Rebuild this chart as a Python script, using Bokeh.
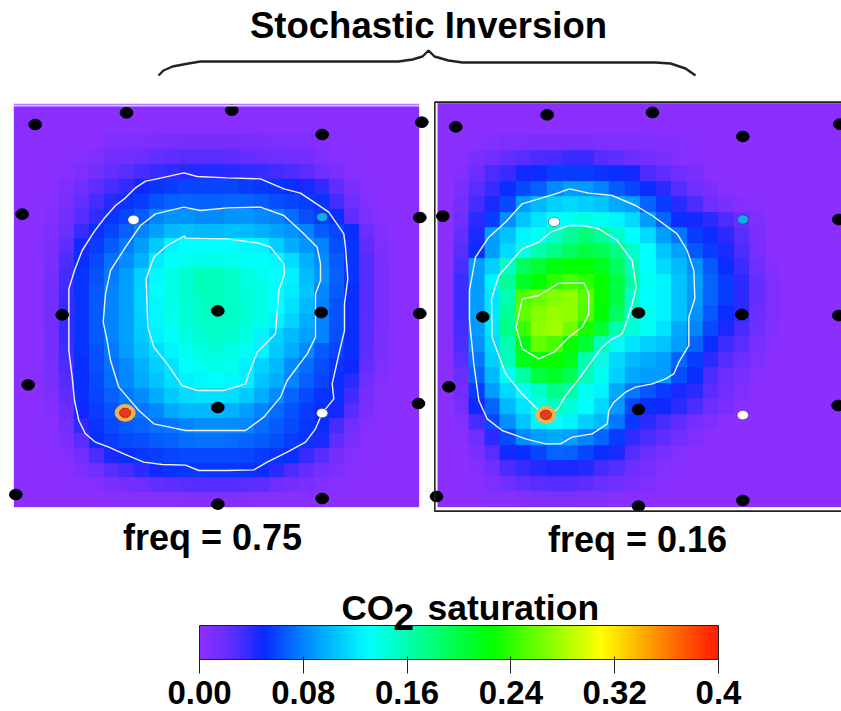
from bokeh.plotting import figure
from bokeh.models import Range1d, LinearColorMapper, ColorBar, FixedTicker
from bokeh.core.properties import value
from bokeh.embed import file_html
from bokeh.resources import INLINE
import numpy as np

# CO2 saturation in thousandths, row 0 at the top of the map
sat_freq75 = [
 [0]*27,
 [0,0,0,0,0,1,2,2,2,2,2,2,2,2,2,2,2,2,2,2,1,1,0,0,0,0,0],
 [0,0,0,0,1,3,8,9,9,10,12,14,14,14,14,12,10,9,9,8,6,3,1,0,0,0,0],
 [0,0,0,1,4,8,14,17,20,22,24,26,26,26,24,22,20,18,16,13,8,4,2,0,0,0,0],
 [0,0,1,4,8,14,22,26,32,36,38,42,42,42,40,38,36,34,30,26,18,10,4,1,0,0,0],
 [0,0,3,8,16,24,32,38,48,52,56,58,58,58,58,56,54,52,50,44,38,24,10,3,1,0,0],
 [0,1,4,12,22,32,42,52,56,64,68,70,68,68,70,70,66,62,58,56,52,34,16,5,1,0,0],
 [0,1,6,16,28,38,52,58,66,80,86,86,84,84,86,86,84,80,72,62,56,50,24,8,2,0,0],
 [0,2,8,20,36,50,58,68,80,92,100,104,100,100,104,102,98,92,86,80,66,58,50,20,6,1,0],
 [0,2,10,24,46,56,66,78,90,108,125,130,130,130,130,128,126,110,96,86,80,62,52,24,8,2,0],
 [0,3,12,30,50,60,74,84,98,122,132,136,138,138,136,134,132,128,116,98,84,66,52,28,10,2,0],
 [0,3,14,34,52,64,78,90,110,128,138,148,156,156,150,142,136,130,124,102,86,68,52,28,12,3,0],
 [0,3,15,35,52,65,80,92,112,130,140,148,155,155,150,145,140,132,122,105,82,66,50,28,12,3,0],
 [0,3,15,36,52,66,80,92,112,128,138,146,152,154,150,146,140,130,118,100,80,64,50,28,12,3,0],
 [0,3,15,36,52,66,80,92,110,128,136,144,150,152,150,146,138,126,112,96,80,64,50,26,12,3,0],
 [0,3,14,36,52,66,80,92,108,124,134,142,148,150,148,142,126,112,100,92,80,62,50,26,10,2,0],
 [0,3,14,34,52,64,78,90,104,116,126,136,142,144,140,134,125,108,96,82,66,58,50,24,10,2,0],
 [0,2,12,30,50,62,74,84,98,110,120,130,136,138,136,124,112,100,84,72,62,52,48,22,8,2,0],
 [0,2,10,28,50,60,72,82,94,106,116,124,128,130,128,124,106,96,80,68,58,50,40,18,6,1,0],
 [0,2,8,24,50,58,68,76,84,96,108,116,118,118,116,108,96,84,70,60,52,50,34,14,4,1,0],
 [0,1,6,20,48,56,64,72,76,82,94,100,100,100,98,90,80,72,64,56,50,46,26,10,3,0,0],
 [0,1,4,14,40,52,60,66,70,74,76,80,84,84,84,82,72,66,60,54,50,32,16,6,2,0,0],
 [0,0,3,10,26,50,56,60,62,66,68,72,74,74,72,70,66,62,56,52,44,24,10,3,1,0,0],
 [0,0,2,6,16,30,44,50,54,56,58,60,60,60,60,58,56,52,50,36,26,14,6,2,0,0,0],
 [0,0,1,3,8,16,26,32,40,46,52,54,54,54,54,52,50,40,30,22,14,8,3,1,0,0,0],
 [0,0,0,1,3,6,10,14,18,22,24,26,28,28,28,26,24,18,14,10,6,3,1,0,0,0,0],
 [0,0,0,0,0,1,2,3,3,4,4,5,6,6,6,5,4,3,2,1,1,0,0,0,0,0,0],
]
sat_freq16 = [
 [0]*26,
 [0]*26,
 [0,0,4,6,8,9,10,10,10,10,9,8,8,7,6,5,3,1,0,0,0,0,0,0,0,0],
 [0,3,10,16,22,26,30,32,36,36,28,24,20,14,10,6,2,1,0,0,0,0,0,0,0,0],
 [0,6,20,30,36,46,50,56,56,55,52,50,46,30,24,18,10,4,0,0,0,0,0,0,0,0],
 [0,10,26,36,50,60,68,82,90,88,80,66,58,50,40,28,18,10,4,0,0,0,0,0,0,0],
 [0,14,32,44,60,90,100,110,115,110,105,95,90,70,55,40,30,18,10,6,3,0,0,0,0,0],
 [0,18,40,55,85,105,120,130,135,140,135,125,115,90,70,50,46,40,30,20,8,0,0,0,0,0],
 [0,22,45,90,105,125,135,150,170,180,170,150,130,115,90,75,55,50,40,26,10,0,0,0,0,0],
 [0,25,50,90,115,140,160,175,190,200,195,175,150,130,105,92,65,55,45,30,12,0,0,0,0,0],
 [0,30,90,110,150,190,205,220,225,225,215,190,155,130,115,100,85,65,50,35,18,5,0,0,0,0],
 [2,35,90,125,170,210,225,240,248,240,225,200,165,135,125,105,90,70,55,40,22,8,0,0,0,0],
 [4,35,90,120,160,250,260,268,272,255,228,200,150,130,125,105,88,70,55,40,22,8,0,0,0,0],
 [4,35,90,120,170,255,268,275,272,250,222,190,145,135,125,105,85,65,50,40,20,8,0,0,0,0],
 [3,32,88,120,175,245,272,278,262,232,205,160,145,135,120,95,80,60,45,32,18,6,0,0,0,0],
 [2,30,85,115,160,218,258,248,228,205,155,135,120,110,105,90,70,50,35,25,12,4,0,0,0,0],
 [1,25,75,110,155,215,225,225,215,160,140,115,100,95,90,70,55,40,28,18,8,0,0,0,0,0],
 [0,20,70,100,135,165,200,210,195,155,135,110,95,90,88,62,50,30,20,12,4,0,0,0,0,0],
 [0,15,55,90,115,135,150,175,165,135,125,95,75,65,55,45,40,25,16,8,0,0,0,0,0,0],
 [0,12,48,70,100,120,140,155,145,130,115,88,60,50,48,40,30,20,12,4,0,0,0,0,0,0],
 [0,5,32,60,85,105,125,130,125,110,100,75,54,40,32,24,14,8,0,0,0,0,0,0,0,0],
 [0,2,18,40,60,82,90,95,90,80,70,55,38,30,24,16,8,0,0,0,0,0,0,0,0,0],
 [0,0,10,26,46,50,58,70,68,58,50,44,28,20,12,6,0,0,0,0,0,0,0,0,0,0],
 [0,1,6,16,30,36,42,45,45,42,34,28,20,12,6,2,0,0,0,0,0,0,0,0,0,0],
 [0,0,3,8,16,22,26,28,28,24,20,16,12,8,3,0,0,0,0,0,0,0,0,0,0,0],
 [0,0,0,2,4,6,8,8,8,7,6,4,3,2,0,0,0,0,0,0,0,0,0,0,0,0],
]

# wells
well_x_75 = [104,378,694,965,1264,65,1258,185,652,962,1258,83,652,1254,46,652,965]
well_y_75 = [102,67,59,132,95,371,381,673,661,666,669,883,951,939,1212,1241,1224]
well_x_16 = [91,365,681,952,1243,52,1240,172,639,949,1240,70,639,1238,33,639,952]
well_y_16 = [109,73,66,138,101,377,387,679,667,672,675,889,957,945,1218,1247,1230]
white_x_75, white_y_75 = [399,965], [388,968]
white_x_16, white_y_16 = [386,952], [394,974]
blue_x_75, blue_y_75 = [965], [380]
blue_x_16, blue_y_16 = [952], [387]
red_x_75, red_y_75 = [374], [967]
red_x_16, red_y_16 = [361], [973]

# white saturation contours
outer_75_x = [590,550,510,470,435,405,375,345,310,280,245,222,205,205,205,215,222,235,255,285,325,370,430,485,555,595,680,760,800,860,915,945,965,1000,995,1020,1032,1032,1042,1035,1030,985,900,850,780,680,590]
outer_75_y = [258,247,256,265,272,292,322,345,385,425,480,540,595,700,780,860,930,990,1030,1055,1070,1090,1115,1122,1124,1140,1140,1138,1115,1085,1055,1015,968,925,880,770,720,640,565,470,430,365,308,295,265,262,258]
mid_75_x = [555,460,415,355,330,318,308,315,330,375,420,465,550,600,680,780,850,905,950,960,960,945,945,920,860,840,790,735,555]
mid_75_y = [1020,1000,960,890,810,740,695,610,540,470,405,370,350,360,352,350,375,425,470,520,570,610,740,790,870,920,980,1020,1020]
inner_75_x = [552,500,460,437,442,460,500,545,590,670,735,745,770,825,835,852,850,810,775,680,555,552]
inner_75_y = [436,465,500,565,710,770,820,885,900,900,880,850,785,730,600,550,520,470,458,445,443,436]
outer_16_x = [432,390,340,290,240,190,150,132,132,145,160,185,230,300,360,405,440,500,545,550,565,600,630,680,720,745,760,790,790,808,805,785,755,680,630,560,490,432]
outer_16_y = [295,310,325,340,395,440,500,600,690,820,930,985,1020,1045,1060,1060,1040,1030,1000,960,935,905,890,880,865,850,815,765,680,625,540,480,430,375,345,315,308,295]
mid_16_x = [430,375,340,290,220,198,200,240,285,340,385,400,420,460,500,530,560,590,605,620,632,620,575,520,470,430]
mid_16_y = [405,425,455,475,555,625,740,850,905,960,965,950,915,865,810,770,745,730,690,640,590,510,450,415,405,405]
inner_16_x = [290,340,400,475,490,490,470,430,385,340,290,272,290]
inner_16_y = [625,615,578,577,610,670,710,740,785,805,775,710,625]

brace_x = [158,163,172,188,200,398,412,422,428,434,448,462,655,670,685,695]
brace_y = [75,70,66,63,61,61,59,56,50,56,60,62,62,63,68,75]

bar_ticks = [0.0,0.08,0.16,0.24,0.32,0.4]
bar_labels = ["0.00","0.08","0.16","0.24","0.32","0.4"]

# colour scale
stops_v = [0,.02,.032,.048,.09,.13,.225,.31,.39,.4]
stops_rgb = [(139,47,255),(105,46,255),(70,44,255),(10,40,255),(0,160,255),(0,255,255),(0,255,0),(255,255,0),(255,48,0),(255,32,0)]
grid = np.linspace(0,.4,256)
palette = ["#%02x%02x%02x" % tuple(int(round(np.interp(g,stops_v,[s[i] for s in stops_rgb]))) for i in range(3)) for g in grid]
mapper = LinearColorMapper(palette=palette, low=0, high=0.4)

p = figure(width=841, height=711, x_range=Range1d(0,841), y_range=Range1d(711,0),
           x_axis_type=None, y_axis_type=None, toolbar_location=None,
           output_backend="svg", min_border=0, outline_line_color=None)
p.grid.visible = False
p.extra_x_ranges = {"a": Range1d(0,2523), "b": Range1d(-1275,1248)}
p.extra_y_ranges = {"z": Range1d(1863,-270)}
FONT = value("Liberation Sans")

def panel(name, rows, x0, y0, w, h, contours, wx, wy, whx, why, bx, by, rx, ry):
    kw = dict(x_range_name=name, y_range_name="z")
    arr = np.array(rows, dtype=float)/1000
    p.image(image=[arr], x=x0, y=y0, dw=w, dh=h, color_mapper=mapper, **kw)
    for cx, cy in contours:
        p.line(cx, cy, line_color="#f2f2ff", line_width=1.4, **kw)
    E = dict(width=38, height=32, **kw)
    p.ellipse(wx, wy, fill_color="black", line_color="black", **E)
    p.ellipse(whx, why, fill_color="white", line_color="#222244", line_width=0.5, width=34, height=28, **kw)
    p.ellipse(bx, by, fill_color="#10a8ee", line_color="#222244", line_width=0.5, width=34, height=28, **kw)
    p.ellipse(rx, ry, fill_color="#f5b04a", line_color="#f5b04a", width=60, height=50, **kw)
    p.ellipse(rx, ry, fill_color="#f0351a", line_color="#5a1a10", line_width=0.6, width=34, height=28, **kw)

panel("a", sat_freq75, 40, 40, 1216, 1210,
      [(outer_75_x,outer_75_y),(mid_75_x,mid_75_y),(inner_75_x,inner_75_y)],
      well_x_75, well_y_75, white_x_75, white_y_75, blue_x_75, blue_y_75, red_x_75, red_y_75)
panel("b", sat_freq16, 36, 38, 1214, 1212,
      [(outer_16_x,outer_16_y),(mid_16_x,mid_16_y),(inner_16_x,inner_16_y)],
      well_x_16, well_y_16, white_x_16, white_y_16, blue_x_16, blue_y_16, red_x_16, red_y_16)

# panel frames
p.line([40,1256],[45,45], line_color="#dcc8ff", line_width=2, x_range_name="a", y_range_name="z")
p.line([1300,28,28,1300],[35,35,1262,1262], line_color="#222222", line_width=1.6, x_range_name="b", y_range_name="z")

# brace and texts
p.line(brace_x, brace_y, line_color="#222222", line_width=2.4)
T = dict(text_font=FONT, text_font_style="bold", text_color="black", text_baseline="middle")
p.text([428],[25],text=["Stochastic Inversion"],text_align="center",text_font_size="36.5px",**T)
p.text([212],[537],text=["freq = 0.75"],text_align="center",text_font_size="36px",**T)
p.text([637],[539],text=["freq = 0.16"],text_align="center",text_font_size="36px",**T)
p.text([341],[607],text=["CO"],text_align="left",text_font_size="35px",**T)
p.text([427],[607],text=["saturation"],text_align="left",text_font_size="35.5px",**T)

cb = ColorBar(color_mapper=mapper, orientation="horizontal", width=519, height=34,
              location=(199, 5), padding=0, margin=0,
              ticker=FixedTicker(ticks=bar_ticks),
              major_label_overrides={t:l for t,l in zip(bar_ticks,bar_labels)},
              major_label_text_font="Liberation Sans", major_label_text_font_style="bold",
              major_label_text_font_size="33px", major_label_text_color="black",
              major_tick_in=3, major_tick_out=14, major_tick_line_color="#222222",
              minor_tick_line_color=None, bar_line_color="#222222",
              border_line_color=None, background_fill_color=None, label_standoff=7)
p.add_layout(cb, "center")
# the subscript sits over the top edge of the bar
p.text([393],[616],text=["2"],text_align="left",text_font_size="37px",level="overlay",**T)

open("out.html","w").write(file_html(p, INLINE))
